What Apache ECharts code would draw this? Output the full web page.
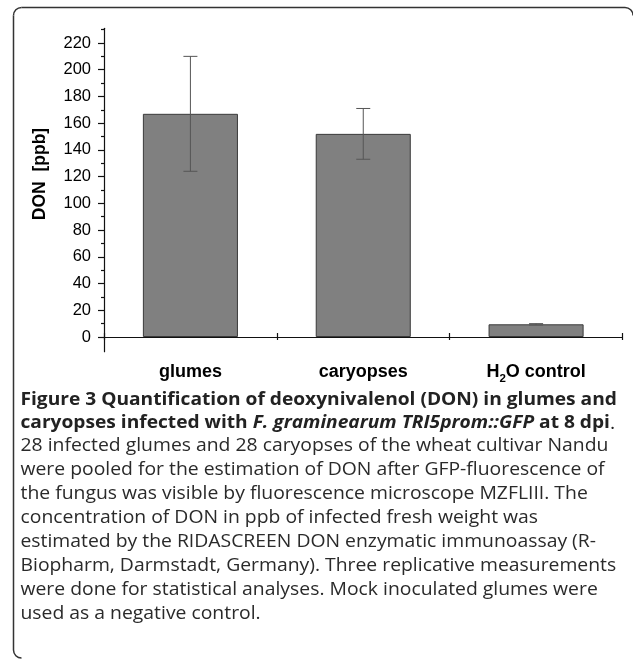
<!DOCTYPE html>
<html>
<head>
<meta charset="utf-8">
<script src="https://cdn.jsdelivr.net/npm/echarts@6/dist/echarts.min.js"></script>
<style>
html,body{margin:0;padding:0;background:#fff;}
#chart{width:633px;height:668px;}
</style>
</head>
<body>
<div id="chart"></div>
<script>
// ---- data ----
const categories = ['glumes', 'caryopses', 'H2O control'];
const donMean = [167, 152, 9.5];
const donError = [43, 19, 0.5];
const yTickLabels = [0, 20, 40, 60, 80, 100, 120, 140, 160, 180, 200, 220];
const yMinorTicks = [10, 30, 50, 70, 90, 110, 130, 150, 170, 190, 210, 230];
const yAxisTitle = 'DON  [ppb]';

const captionBold1 = 'Figure 3 Quantification of deoxynivalenol (DON) in glumes and';
const captionBold2 = ['caryopses infected with ', 'F. graminearum TRI5prom::GFP', ' at 8 dpi', '.'];
const captionBody = [
  '28 infected glumes and 28 caryopses of the wheat cultivar Nandu',
  'were pooled for the estimation of DON after GFP-fluorescence of',
  'the fungus was visible by fluorescence microscope MZFLIII. The',
  'concentration of DON in ppb of infected fresh weight was',
  'estimated by the RIDASCREEN DON enzymatic immunoassay (R-',
  'Biopharm, Darmstadt, Germany). Three replicative measurements',
  'were done for statistical analyses. Mock inoculated glumes were',
  'used as a negative control.'
];

// ---- layout (approximate caption line right edges in the reference) ----
const boldLineEnds = [612, 620];
const bodyLineEnds = [551, 597, 591, 553, 601, 603, 593, 241];

// ---- text fitting helper ----
const mctx = document.createElement('canvas').getContext('2d');
function measure(str, font) { mctx.font = font; return mctx.measureText(str).width; }

const capFont = '"Open Sans", "Noto Sans", sans-serif';
const bodySize = 18, boldSize = 17.5;
const bodyFont = bodySize + 'px ' + capFont;
const boldFont = 'bold ' + boldSize + 'px ' + capFont;
const italicBoldFont = 'italic ' + boldFont;
const capX = 20.5;

// one common horizontal scale for the body text (fitted on the full-width lines)
let sSum = 0, sN = 0;
for (let k = 1; k <= 6; k++) { sSum += (bodyLineEnds[k] - capX) / measure(captionBody[k], bodyFont); sN++; }
const bodyScale = sSum / sN;
const b1w = measure(captionBold1, boldFont);
const b2w = measure(captionBold2[0], boldFont) + measure(captionBold2[1], italicBoldFont) +
            measure(captionBold2[2], boldFont) + measure(captionBold2[3], bodyFont);
const boldScale = ((boldLineEnds[0] - capX) / b1w + (boldLineEnds[1] - capX) / b2w) / 2;

const graphics = [];
// frame (left + top edges with rounded corners)
const frameStyle = { fill: 'none', stroke: '#333', lineWidth: 1.5 };
graphics.push({ type: 'polyline', silent: true, shape: { points: [[13.5, 15.5], [13.5, 650]] }, style: frameStyle });
graphics.push({ type: 'polyline', silent: true, shape: { points: [[21.5, 7.5], [625, 7.5]] }, style: frameStyle });
graphics.push({ type: 'arc', silent: true, shape: { cx: 21.5, cy: 15.5, r: 8, startAngle: Math.PI, endAngle: Math.PI * 1.5, clockwise: true }, style: frameStyle });
graphics.push({ type: 'arc', silent: true, shape: { cx: 625, cy: 15.5, r: 8, startAngle: Math.PI * 1.5, endAngle: Math.PI * 2, clockwise: true }, style: frameStyle });
graphics.push({ type: 'arc', silent: true, shape: { cx: 21.5, cy: 650, r: 8, startAngle: Math.PI * 0.5, endAngle: Math.PI, clockwise: true }, style: frameStyle });
// y axis title
graphics.push({
  type: 'text', x: 40, y: 174, rotation: Math.PI / 2,
  style: { text: yAxisTitle, font: 'bold 17.5px "Liberation Sans", Arial, sans-serif',
    fill: '#000', align: 'center', verticalAlign: 'middle' }
});
// caption bold lines
graphics.push({
  type: 'text', x: capX, y: 400, scaleX: boldScale,
  style: { text: captionBold1, font: boldFont, fill: '#222', align: 'left', verticalAlign: 'middle' }
});
graphics.push({
  type: 'text', x: capX, y: 423.5, scaleX: boldScale,
  style: {
    text: '{b|' + captionBold2[0] + '}{i|' + captionBold2[1] + '}{b|' + captionBold2[2] + '}{r|' + captionBold2[3] + '}',
    align: 'left', verticalAlign: 'middle', fill: '#222',
    rich: {
      b: { font: boldFont, fill: '#222' },
      i: { font: italicBoldFont, fill: '#222' },
      r: { font: bodyFont, fill: '#222' }
    }
  }
});
captionBody.forEach(function (line, k) {
  graphics.push({
    type: 'text', x: capX, y: 446 + k * 24, scaleX: bodyScale,
    style: { text: line, font: bodyFont, fill: '#2a2a2a', align: 'left', verticalAlign: 'middle' }
  });
});

const chart = echarts.init(document.getElementById('chart'), null, { renderer: 'canvas' });
const axisFont = '"Liberation Sans", Arial, sans-serif';
chart.setOption({
  animation: false,
  backgroundColor: '#fff',
  grid: { left: 104, right: 10.5, top: 28.3, bottom: 316.3 },
  xAxis: [{
    type: 'category', data: categories, boundaryGap: true,
    axisLine: { show: true, lineStyle: { color: '#111', width: 1.2 } },
    axisTick: { show: true, length: 3, lineStyle: { color: '#111', width: 1.2 } },
    axisLabel: {
      interval: 0, margin: 11, color: '#000', fontFamily: axisFont, fontWeight: 'bold', fontSize: 18,
      formatter: function (v) { return v === 'H2O control' ? '{n|H}{s|2}{n|O control}' : v; },
      rich: {
        n: { fontFamily: axisFont, fontWeight: 'bold', fontSize: 18, color: '#000', verticalAlign: 'top', lineHeight: 21 },
        s: { fontFamily: axisFont, fontWeight: 'bold', fontSize: 11.5, color: '#000', verticalAlign: 'top', lineHeight: 21, padding: [10, 0, 0, 0] }
      }
    },
    splitLine: { show: false }
  }, {
    type: 'category', data: categories, boundaryGap: true, position: 'bottom',
    axisLine: { show: false },
    axisTick: { show: true, inside: true, length: 4, lineStyle: { color: '#111', width: 1.2 } },
    axisLabel: { show: false },
    splitLine: { show: false }
  }],
  yAxis: [{
    type: 'value', min: -11, max: 231,
    axisLine: { show: true, lineStyle: { color: '#111', width: 1.2 } },
    axisTick: { show: true, length: 6, customValues: yTickLabels, lineStyle: { color: '#111', width: 1.2 } },
    axisLabel: { margin: 13, color: '#000', fontFamily: axisFont, fontSize: 16.5, customValues: yTickLabels },
    splitLine: { show: false }
  }, {
    type: 'value', min: -11, max: 231, position: 'left',
    axisLine: { show: false },
    axisTick: { show: true, length: 3, customValues: yMinorTicks, lineStyle: { color: '#111', width: 1.2 } },
    axisLabel: { show: false, customValues: yMinorTicks },
    splitLine: { show: false }
  }],
  series: [{
    type: 'bar', data: donMean, barWidth: '55%', xAxisIndex: 0, yAxisIndex: 0,
    itemStyle: { color: '#808080', borderColor: '#3a3a3a', borderWidth: 1 },
    z: 2
  }, {
    type: 'custom', xAxisIndex: 0, yAxisIndex: 0, z: 5,
    data: categories.map(function (c, i) { return [i, donMean[i], donError[i]]; }),
    renderItem: function (params, api) {
      const top = api.coord([api.value(0), api.value(1) + api.value(2)]);
      const bot = api.coord([api.value(0), api.value(1) - api.value(2)]);
      const hw = 7;
      const st = { stroke: '#555', lineWidth: 1 };
      return { type: 'group', children: [
        { type: 'line', shape: { x1: top[0], y1: top[1], x2: bot[0], y2: bot[1] }, style: st },
        { type: 'line', shape: { x1: top[0] - hw, y1: top[1], x2: top[0] + hw, y2: top[1] }, style: st },
        { type: 'line', shape: { x1: bot[0] - hw, y1: bot[1], x2: bot[0] + hw, y2: bot[1] }, style: st }
      ] };
    }
  }],
  graphic: graphics
});
</script>
</body>
</html>
